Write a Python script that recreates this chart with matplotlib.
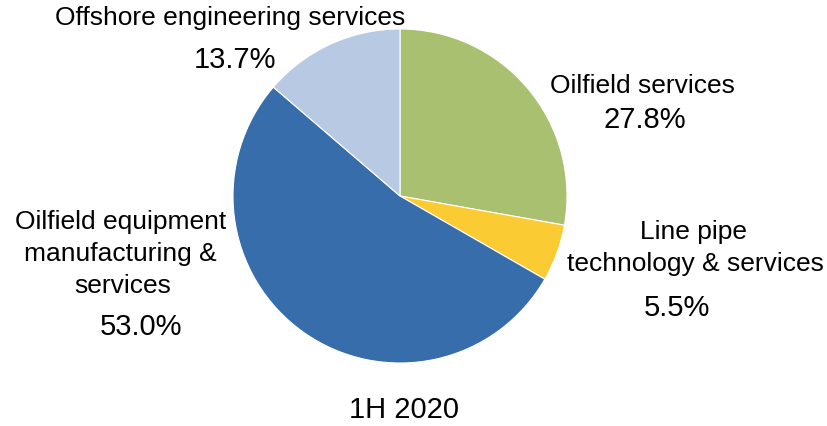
import matplotlib.pyplot as plt

plt.rcParams['font.family'] = ['Liberation Sans', 'DejaVu Sans']

# segment shares, clockwise from 12 o'clock
segments = ["Oilfield services", "Line pipe technology & services",
            "Oilfield equipment manufacturing & services", "Offshore engineering services"]
shares = [27.8, 5.5, 53.0, 13.7]
colors = ["#A9C070", "#FACB32", "#376DAB", "#B8C9E4"]
period = "1H 2020"

W, H = 827, 426
cx, cy, r = 400, 196, 167

fig = plt.figure(figsize=(W / 100, H / 100), dpi=100)
ax = fig.add_axes([(cx - r) / W, (H - cy - r) / H, 2 * r / W, 2 * r / H])
ax.pie(shares, colors=colors, startangle=90, counterclock=False, radius=1,
       wedgeprops=dict(edgecolor='white', linewidth=0.8))
ax.set_xlim(-1, 1)
ax.set_ylim(-1, 1)
ax.set_aspect('equal')
ax.axis('off')


def px(x, y):
    # pixel position -> data coords of the pie axes
    return (x - cx) / r, (cy - y) / r


def put(x, y, s, size, **kw):
    ax.text(*px(x, y), s, fontsize=size, ha='center', va='center', clip_on=False, **kw)


lab = 19
pct = 21

put(230, 18, "Offshore engineering services", lab)
put(235, 60, "%.1f%%" % shares[3], pct)

put(642, 86, "Oilfield services", lab)
put(645, 120, "%.1f%%" % shares[0], pct)

put(693, 232, "Line pipe", lab)
put(695, 264, "technology & services", lab)
put(677, 308, "%.1f%%" % shares[1], pct)

put(121, 222, "Oilfield equipment", lab)
put(120, 254, "manufacturing &", lab)
put(123, 286, "services", lab)
put(141, 327, "%.1f%%" % shares[2], pct)

put(404, 410, period, pct)

fig.savefig("out.png", dpi=100)
